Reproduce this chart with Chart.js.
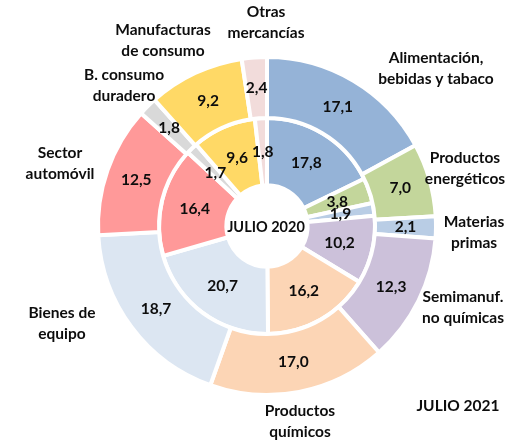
<!DOCTYPE html>
<html>
<head>
<meta charset="utf-8">
<script src="https://cdn.jsdelivr.net/npm/chart.js@4"></script>
<style>
    html, body { margin: 0; padding: 0; background: #ffffff; }
    #wrap { width: 524px; height: 440px; position: relative; }
</style>
</head>
<body>
<div id="wrap"><canvas id="sectorChart"></canvas></div>
<script>
// Export structure by sector (% of total), July 2020 (inner) and July 2021 (outer)

const categories = [
    ['Alimentación,', 'bebidas y tabaco'],
    ['Productos', 'energéticos'],
    ['Materias', 'primas'],
    ['Semimanuf.', 'no químicas'],
    ['Productos', 'químicos'],
    ['Bienes de', 'equipo'],
    ['Sector', 'automóvil'],
    ['B. consumo', 'duradero'],
    ['Manufacturas', 'de consumo'],
    ['Otras', 'mercancías']
];

const julio2021 = [17.1, 7.0, 2.1, 12.3, 17.0, 18.7, 12.5, 1.8, 9.2, 2.4];
const julio2020 = [17.8, 3.8, 1.9, 10.2, 16.2, 20.7, 16.4, 1.7, 9.6, 1.8];

const sectorColors = [
    '#95b3d7', '#c3d69b', '#b9cde5', '#ccc1da', '#fcd5b5',
    '#dce6f2', '#ff9999', '#d9d9d9', '#ffd966', '#f2dcdb'
];

// where the category names sit around the ring
const labelAnchors = [
    [436, 58], [465, 158], [474, 222], [463, 297], [300, 411],
    [62, 313], [60, 153], [124, 75], [163, 30], [266, 12]
];

const FONT = 'bold 15.5px Lato, "Open Sans", sans-serif';
const CENTER_FONT = 'bold 14.5px Lato, "Open Sans", sans-serif';

function formatValue(v) {
    return v.toFixed(1).replace('.', ',');
}

const textPlugin = {
    id: 'textPlugin',
    afterDatasetsDraw(chart) {
        const ctx = chart.ctx;
        ctx.save();
        ctx.font = FONT;
        ctx.fillStyle = '#0d0d0d';
        ctx.textAlign = 'center';
        ctx.textBaseline = 'middle';

        chart.data.datasets.forEach((ds, i) => {
            const meta = chart.getDatasetMeta(i);
            meta.data.forEach((arc, j) => {
                const pos = arc.tooltipPosition();
                ctx.fillText(formatValue(ds.data[j]), pos.x, pos.y);
            });
        });

        categories.forEach((lines, j) => {
            const [x, y] = labelAnchors[j];
            lines.forEach((line, k) => ctx.fillText(line, x, y + k * 21));
        });

        ctx.fillText('JULIO 2021', 458, 406);

        const meta0 = chart.getDatasetMeta(0).data[0];
        ctx.font = CENTER_FONT;
        ctx.fillText('JULIO 2020', meta0.x - 1, meta0.y + 1);
        ctx.restore();
    }
};

new Chart(document.getElementById('sectorChart').getContext('2d'), {
    type: 'doughnut',
    data: {
        labels: categories.map(c => c.join(' ')),
        datasets: [
            {
                label: 'JULIO 2021',
                data: julio2021,
                backgroundColor: sectorColors,
                borderColor: '#ffffff',
                borderWidth: 4,
                weight: 57.5
            },
            {
                label: 'JULIO 2020',
                data: julio2020,
                backgroundColor: sectorColors,
                borderColor: '#ffffff',
                borderWidth: 4,
                weight: 63.5
            }
        ]
    },
    options: {
        responsive: true,
        maintainAspectRatio: false,
        animation: false,
        radius: 169,
        cutout: 51,
        layout: {
            padding: { left: 10, top: 12, right: 0, bottom: 0 }
        },
        plugins: {
            legend: { display: false },
            tooltip: { enabled: false }
        }
    },
    plugins: [textPlugin]
});
</script>
</body>
</html>
